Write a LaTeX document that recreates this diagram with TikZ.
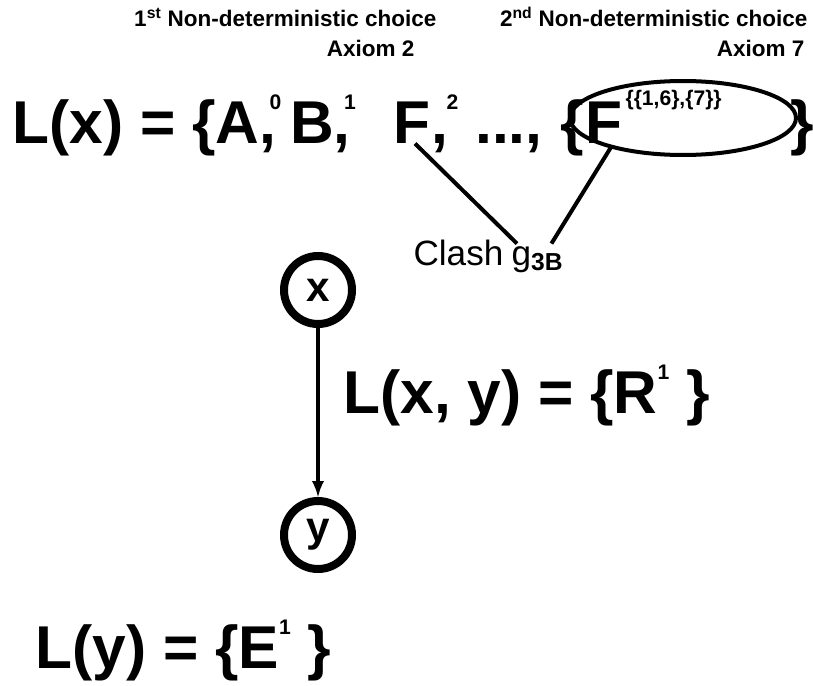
\documentclass[tikz,border=0pt]{standalone}
\usepackage{fontspec}
\setmainfont{Liberation Sans}
\usepackage{tikz}
\usetikzlibrary{shapes.geometric, arrows, positioning, calc}

\newcommand{\sups}[1]{\raisebox{0.55em}{\fontsize{15}{15}\selectfont #1}}

\tikzset{
  big/.style={font=\fontsize{43}{48}\selectfont\bfseries, inner sep=0pt},
  note/.style={font=\fontsize{16}{18}\selectfont\bfseries, inner sep=0pt},
  vertex/.style={draw, circle, line width=2mm, minimum size=17mm, inner sep=0pt, font=\fontsize{30}{30}\selectfont\bfseries}
}

\begin{document}
\begin{tikzpicture}[x=0.25mm, y=-0.25mm, >=latex, thick]
    \useasboundingbox (0,0) rectangle (813,686);

    % Choice notes
    \node (note1) [note, anchor=base east] at (437,27) {1\textsuperscript{st} Non-deterministic choice};
    \node (ax2) [note, anchor=base east] at (415,57) {Axiom 2};
    \node (note2) [note, anchor=base east] at (808,27) {2\textsuperscript{nd} Non-deterministic choice};
    \node (ax7) [note, anchor=base east] at (805,57) {Axiom 7};

    % Label of x
    \node (lx) [big, anchor=base west] at (12,143) {L(x) = \{A\rlap{,}\,\sups{0}\hspace{0.15em}B\rlap{,}\,\sups{1}};
    \node (fone) [big, anchor=base west] at (393,143) {F};
    \node (fonerest) [big, anchor=base west] at (fone.base east) {\rlap{,}\hspace{0.25em}\sups{2}\ ...,};
    \node (ftwo) [big, anchor=base west] at (585,143) {F};
    \node (brace) [big, anchor=base east] at (ftwo.base west) {\{};
    \node (ftwosup) [font=\fontsize{15}{15}\selectfont\bfseries, inner sep=0pt, anchor=base west] at (625,105) {\{\{1,6\},\{7\}\}};
    \node (close) [big, anchor=base west] at (790,143) {\}};
    \node (ring) [draw, ellipse, line width=1mm, minimum width=56.5mm, minimum height=18.5mm] at (683,118) {};

    % Clash
    \node (clash) [anchor=base west, inner sep=0pt, font=\fontsize{25}{25}\selectfont] at (413,265) {Clash};
    \node (gsub) [anchor=base west, inner sep=0pt, font=\fontsize{25}{25}\selectfont] at (511,265) {g\textsubscript{\bfseries 3B}};
    \draw [line width=1mm] ($(fone.south)+(3,0)$) -- ($(gsub.north west)+(6,-2)$);
    \draw [line width=1mm] ($(ftwo.south)+(8,2)$) -- ($(gsub.north)+(14,-2)$);

    % Nodes and edge
    \node (x) [vertex] at (318,290) {x};
    \node (y) [vertex] at (318,535) {y};
    \draw [->, line width=1mm] (x) -- (y);

    % Edge and node labels
    \node (lxy) [big, anchor=base west] at (343,413) {L(x, y) = \{R\sups{1}\ \}};
    \node (ly) [big, anchor=base west] at (35,668) {L(y) = \{E\sups{1}\ \}};
\end{tikzpicture}
\end{document}
